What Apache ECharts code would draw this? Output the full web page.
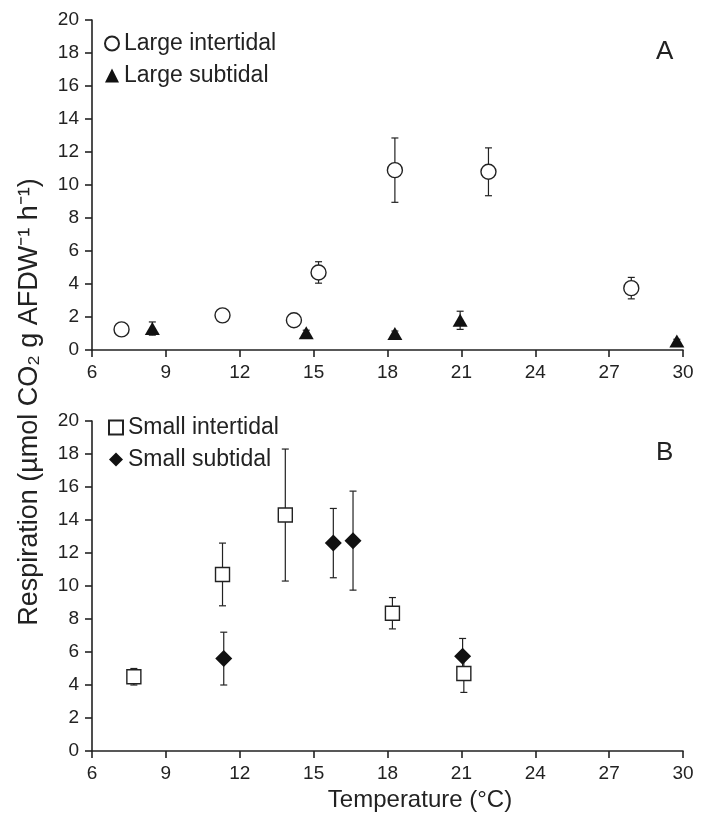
<!DOCTYPE html>
<html>
<head>
<meta charset="utf-8">
<script src="https://cdn.jsdelivr.net/npm/echarts@6/dist/echarts.min.js"></script>
<style>
  html, body { margin: 0; padding: 0; background: #fff; }
  #chart { width: 712px; height: 822px; }
</style>
</head>
<body>
<div id="chart"></div>
<script>
// temperature (°C), respiration mean, error (SE)
var xTicks = [6, 9, 12, 15, 18, 21, 24, 27, 30];

var largeInterX   = [7.2, 11.3, 14.2, 15.2, 18.3, 22.1, 27.9];
var largeInterY   = [1.25, 2.1, 1.8, 4.7, 10.9, 10.8, 3.75];
var largeInterErr = [0.2, 0.2, 0.2, 0.65, 1.95, 1.45, 0.65];

var largeSubX   = [8.45, 14.7, 18.3, 20.95, 29.75];
var largeSubY   = [1.3, 1.05, 1.0, 1.8, 0.55];
var largeSubErr = [0.4, 0.15, 0.15, 0.55, 0.1];

var smallInterX   = [7.7, 11.3, 13.85, 18.2, 21.1];
var smallInterY   = [4.5, 10.7, 14.3, 8.35, 4.7];
var smallInterErr = [0.5, 1.9, 4.0, 0.95, 1.15];

var smallSubX   = [11.35, 15.8, 16.6, 21.05];
var smallSubY   = [5.6, 12.6, 12.75, 5.75];
var smallSubErr = [1.6, 2.1, 3.0, 1.07];

function pts(xs, ys) {
    var out = [];
    for (var i = 0; i < xs.length; i++) out.push([xs[i], ys[i]]);
    return out;
}
function errs(xs, ys, es) {
    var out = [];
    for (var i = 0; i < xs.length; i++) out.push([xs[i], ys[i], es[i]]);
    return out;
}

function errorBars(params, api) {
    var x = api.value(0), y = api.value(1), e = api.value(2);
    var hi = api.coord([x, y + e]);
    var lo = api.coord([x, y - e]);
    var cap = 3.5;
    var st = { stroke: '#222', lineWidth: 1.2 };
    return {
        type: 'group',
        children: [
            { type: 'line', shape: { x1: hi[0], y1: hi[1], x2: lo[0], y2: lo[1] }, style: st },
            { type: 'line', shape: { x1: hi[0] - cap, y1: hi[1], x2: hi[0] + cap, y2: hi[1] }, style: st },
            { type: 'line', shape: { x1: lo[0] - cap, y1: lo[1], x2: lo[0] + cap, y2: lo[1] }, style: st }
        ]
    };
}

var font = 'Liberation Sans, Arial, sans-serif';

function xAxisDef(idx) {
    return {
        type: 'value', gridIndex: idx, min: 6, max: 30, interval: 3,
        axisLine: { show: true, onZero: false, lineStyle: { color: '#222', width: 1.6 } },
        axisTick: { show: true, length: 7, lineStyle: { color: '#222', width: 1.6 } },
        axisLabel: { color: '#222', fontSize: 19, fontFamily: font, margin: 13 },
        splitLine: { show: false }
    };
}
function yAxisDef(idx) {
    return {
        type: 'value', gridIndex: idx, min: 0, max: 20, interval: 2,
        axisLine: { show: true, lineStyle: { color: '#222', width: 1.6 } },
        axisTick: { show: true, length: 7, lineStyle: { color: '#222', width: 1.6 } },
        axisLabel: { color: '#222', fontSize: 19, fontFamily: font, margin: 13 },
        splitLine: { show: false }
    };
}

var chart = echarts.init(document.getElementById('chart'));
chart.setOption({
    backgroundColor: '#fff',
    animation: false,
    grid: [
        { left: 92, top: 20, width: 591, height: 330 },
        { left: 92, top: 421, width: 591, height: 330 }
    ],
    xAxis: [xAxisDef(0), xAxisDef(1)],
    yAxis: [yAxisDef(0), yAxisDef(1)],
    legend: [
        {
            data: ['Large intertidal', 'Large subtidal'],
            orient: 'vertical', left: 104, top: 32, itemGap: 9,
            itemWidth: 14, itemHeight: 14, padding: 0,
            textStyle: { color: '#222', fontSize: 23, fontFamily: font }
        },
        {
            data: ['Small intertidal', 'Small subtidal'],
            orient: 'vertical', left: 108, top: 416, itemGap: 9,
            itemWidth: 14, itemHeight: 14, padding: 0,
            textStyle: { color: '#222', fontSize: 23, fontFamily: font }
        }
    ],
    series: [
        { type: 'custom', xAxisIndex: 0, yAxisIndex: 0, renderItem: errorBars,
          data: errs(largeInterX, largeInterY, largeInterErr), z: 1, silent: true },
        { type: 'custom', xAxisIndex: 0, yAxisIndex: 0, renderItem: errorBars,
          data: errs(largeSubX, largeSubY, largeSubErr), z: 1, silent: true },
        { type: 'custom', xAxisIndex: 1, yAxisIndex: 1, renderItem: errorBars,
          data: errs(smallInterX, smallInterY, smallInterErr), z: 1, silent: true },
        { type: 'custom', xAxisIndex: 1, yAxisIndex: 1, renderItem: errorBars,
          data: errs(smallSubX, smallSubY, smallSubErr), z: 1, silent: true },
        {
            name: 'Large intertidal', type: 'scatter', xAxisIndex: 0, yAxisIndex: 0,
            symbol: 'circle', symbolSize: 15, z: 3,
            itemStyle: { color: '#fff', borderColor: '#222', borderWidth: 1.4, opacity: 1 },
            data: pts(largeInterX, largeInterY)
        },
        {
            name: 'Large subtidal', type: 'scatter', xAxisIndex: 0, yAxisIndex: 0,
            symbol: 'triangle', symbolSize: [15, 13], z: 3,
            itemStyle: { color: '#111', opacity: 1 },
            data: pts(largeSubX, largeSubY)
        },
        {
            name: 'Small intertidal', type: 'scatter', xAxisIndex: 1, yAxisIndex: 1,
            symbol: 'rect', symbolSize: 14, z: 3,
            itemStyle: { color: '#fff', borderColor: '#222', borderWidth: 1.4, opacity: 1 },
            data: pts(smallInterX, smallInterY)
        },
        {
            name: 'Small subtidal', type: 'scatter', xAxisIndex: 1, yAxisIndex: 1,
            symbol: 'diamond', symbolSize: 17, z: 4,
            itemStyle: { color: '#111', opacity: 1 },
            data: pts(smallSubX, smallSubY)
        }
    ],
    graphic: [
        { type: 'text', left: 656, top: 39, style: { text: 'A', fontSize: 26, fontFamily: font, fill: '#222' } },
        { type: 'text', left: 656, top: 440, style: { text: 'B', fontSize: 26, fontFamily: font, fill: '#222' } },
        {
            type: 'text', x: 30, y: 402, rotation: Math.PI / 2,
            style: {
                text: 'Respiration (µmol CO₂ g AFDW⁻¹ h⁻¹)',
                fontSize: 27, fontFamily: font, fill: '#222',
                align: 'center', verticalAlign: 'middle'
            }
        },
        {
            type: 'text', x: 420, y: 800,
            style: {
                text: 'Temperature (°C)', fontSize: 24, fontFamily: font, fill: '#222',
                align: 'center', verticalAlign: 'middle'
            }
        }
    ]
});
</script>
</body>
</html>
